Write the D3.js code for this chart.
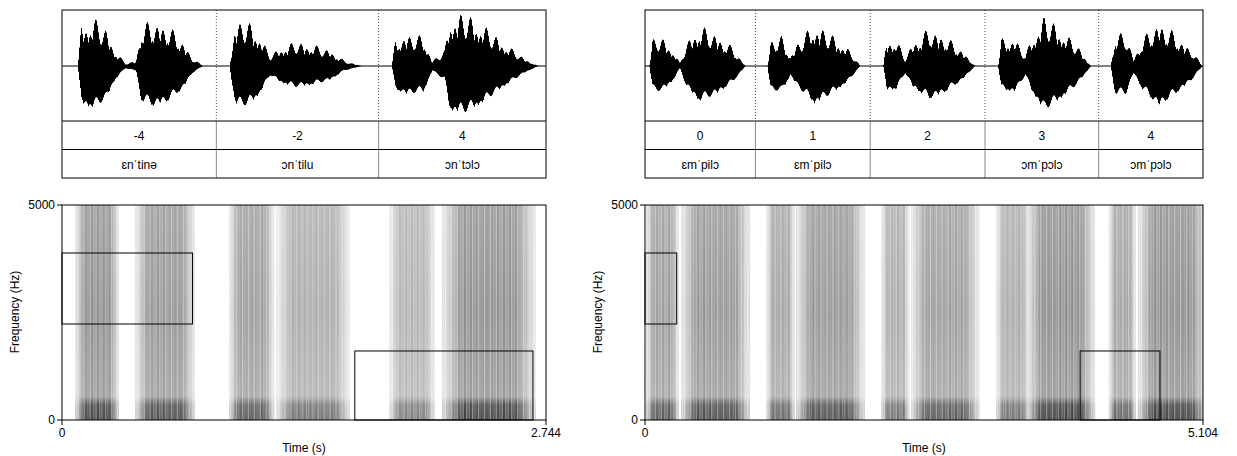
<!DOCTYPE html>
<html><head><meta charset="utf-8">
<script src="https://cdn.jsdelivr.net/npm/d3@7"></script>
<style>body{margin:0;background:#fff}text{font-family:Arial,"Liberation Sans",sans-serif;font-size:12px}</style>
</head><body><svg width="1237" height="456"></svg>
<script>
// left panel
let leftDur = 2.744
let leftBounds = [0.875, 1.795]
let leftTier1 = ['-4', '-2', '4']
let leftTier2 = ['ɛnˈtinə', 'ɔnˈtilu', 'ɔnˈtɔlɔ']
let leftEnv = [[0,0],[0.09,0],[0.11,0.8],[0.18,0.9],[0.25,0.7],[0.3,0.3],[0.36,0.05],[0.42,0.1],[0.45,0.75],[0.52,0.85],[0.6,0.75],[0.68,0.5],[0.74,0.15],[0.8,0],[0.95,0],[0.98,0.8],[1.05,0.85],[1.12,0.6],[1.18,0.2],[1.24,0.35],[1.32,0.45],[1.42,0.4],[1.52,0.3],[1.6,0.1],[1.7,0],[1.87,0],[1.89,0.5],[1.95,0.6],[2.05,0.55],[2.1,0.1],[2.17,0.3],[2.2,0.95],[2.28,1],[2.38,0.8],[2.5,0.45],[2.62,0.15],[2.7,0],[2.744,0]]
let leftSegs = [[0.1,0.3,0.8],[0.44,0.73,0.75],[0.97,1.18,0.7],[1.24,1.61,0.6],[1.88,2.09,0.55],[2.18,2.66,0.8]]
let leftBoxes = [[0,0.74,2233,3884],[1.66,2.67,0,1605]]

// right panel
let rightDur = 5.104
let rightBounds = [1.01, 2.06, 3.11, 4.15]
let rightTier1 = ['0', '1', '2', '3', '4']
let rightTier2 = ['ɛmˈpilɔ', 'ɛmˈpilɔ', '', 'ɔmˈpɔlɔ', 'ɔmˈpɔlɔ']
let rightEnv = [[0,0],[0.04,0],[0.07,0.5],[0.15,0.55],[0.26,0.3],[0.32,0.05],[0.38,0.45],[0.5,0.75],[0.65,0.6],[0.8,0.35],[0.92,0],[1.12,0],[1.15,0.5],[1.25,0.55],[1.33,0.2],[1.4,0.45],[1.55,0.8],[1.7,0.6],[1.85,0.35],[1.97,0],[2.18,0],[2.21,0.5],[2.3,0.5],[2.38,0.15],[2.45,0.45],[2.6,0.7],[2.75,0.55],[2.9,0.3],[3.02,0],[3.23,0],[3.26,0.5],[3.38,0.55],[3.48,0.2],[3.53,0.5],[3.65,0.95],[3.8,0.7],[3.95,0.4],[4.08,0],[4.26,0],[4.3,0.6],[4.4,0.6],[4.47,0.15],[4.55,0.5],[4.7,0.85],[4.85,0.6],[5.0,0.3],[5.1,0],[5.104,0]]
let rightSegs = [[0.05,0.27,0.7],[0.37,0.92,0.75],[1.15,1.33,0.65],[1.42,1.97,0.75],[2.2,2.38,0.6],[2.47,3.02,0.7],[3.25,3.48,0.6],[3.53,4.08,0.8],[4.28,4.45,0.65],[4.55,5.1,0.8]]
let rightBoxes = [[0,0.29,2233,3884],[3.98,4.71,0,1605]]

let freqTicks = [0, 5000]

let svg = d3.select('svg')
let defs = svg.append('defs')
let grad = defs.append('linearGradient').attr('id', 'sg').attr('x1', 0).attr('x2', 0).attr('y1', 1).attr('y2', 0)
grad.append('stop').attr('offset', '0').attr('stop-color', '#000')
grad.append('stop').attr('offset', '0.07').attr('stop-color', '#111')
grad.append('stop').attr('offset', '0.11').attr('stop-color', '#777')
grad.append('stop').attr('offset', '0.5').attr('stop-color', '#666')
grad.append('stop').attr('offset', '1').attr('stop-color', '#777')
let hg = defs.append('linearGradient').attr('id', 'hg')
hg.append('stop').attr('offset', '0').attr('stop-color', '#fff').attr('stop-opacity', 0.8)
hg.append('stop').attr('offset', '0.2').attr('stop-color', '#fff').attr('stop-opacity', 0)
hg.append('stop').attr('offset', '0.8').attr('stop-color', '#fff').attr('stop-opacity', 0)
hg.append('stop').attr('offset', '1').attr('stop-color', '#fff').attr('stop-opacity', 0.8)

let panelNo = 0
let drawPanel = (x0, x1, dur, bounds, tier1, tier2, env, segs, boxes) => {
  let x = d3.scaleLinear().domain([0, dur]).range([x0, x1])
  let edges = [0].concat(bounds, [dur])
  let g = svg.append('g')
  let clipId = 'clip' + (panelNo++)
  defs.append('clipPath').attr('id', clipId).append('rect')
    .attr('x', x0).attr('y', 205).attr('width', x1 - x0).attr('height', 215)

  // waveform
  let amp = d3.scaleLinear().domain([0, 1]).range([0, 55])
  let envFn = t => {
    let i = d3.bisector(d => d[0]).right(env, t)
    if (i <= 0) return env[0][1]
    if (i >= env.length) return env[env.length - 1][1]
    let a = env[i - 1], b = env[i]
    return a[1] + (b[1] - a[1]) * (t - a[0]) / (b[0] - a[0])
  }
  let ticks = d3.range(x0 + 0.5, x1, 1)
  g.append('path')
    .attr('d', ticks.map((px, i) => {
      let e = amp(envFn(x.invert(px)))
      let k = 0.5 + 0.5 * Math.abs(Math.sin(i * 2.9) * Math.cos(i * 0.37))
      return 'M' + px + ',' + (66 - e * k) + 'V' + (66 + e * (1.05 - k * 0.4))
    }).join(''))
    .attr('stroke', '#000').attr('stroke-width', 1)
  g.append('line').attr('x1', x0).attr('x2', x1).attr('y1', 66).attr('y2', 66).attr('stroke', '#000')
  bounds.forEach(b => {
    g.append('line').attr('x1', x(b)).attr('x2', x(b)).attr('y1', 10).attr('y2', 121)
      .attr('stroke', '#000').attr('stroke-width', 0.7).attr('stroke-dasharray', '1,2')
    g.append('line').attr('x1', x(b)).attr('x2', x(b)).attr('y1', 121).attr('y2', 178)
      .attr('stroke', '#888').attr('stroke-width', 1)
  })
  g.append('rect').attr('x', x0).attr('y', 10).attr('width', x1 - x0).attr('height', 168)
    .attr('fill', 'none').attr('stroke', '#000')
  g.append('line').attr('x1', x0).attr('x2', x1).attr('y1', 121).attr('y2', 121).attr('stroke', '#000')
  g.append('line').attr('x1', x0).attr('x2', x1).attr('y1', 149.5).attr('y2', 149.5).attr('stroke', '#000')
  tier1.forEach((t, i) => {
    g.append('text').attr('x', (x(edges[i]) + x(edges[i + 1])) / 2).attr('y', 140)
      .attr('text-anchor', 'middle').text(t)
  })
  tier2.forEach((t, i) => {
    g.append('text').attr('x', (x(edges[i]) + x(edges[i + 1])) / 2).attr('y', 169)
      .attr('text-anchor', 'middle').text(t)
  })

  // spectrogram
  let y = d3.scaleLinear().domain([0, 5000]).range([420, 205])
  let sg = g.append('g').attr('clip-path', 'url(#' + clipId + ')')
  segs.forEach(s => {
    let sx = x(s[0]) - 4, sw = x(s[1]) - x(s[0]) + 8
    sg.append('rect').attr('x', sx).attr('y', 205).attr('width', sw).attr('height', 215)
      .attr('fill', 'url(#sg)').attr('opacity', s[2])
    d3.range(sx, sx + sw, 1.5).forEach((px, i) => {
      sg.append('line').attr('x1', px).attr('x2', px).attr('y1', 205).attr('y2', 420)
        .attr('stroke', '#fff').attr('stroke-width', 0.8).attr('opacity', 0.15 + 0.45 * Math.abs(Math.sin(i * 2.3)))
    })
    sg.append('rect').attr('x', sx).attr('y', 205).attr('width', sw).attr('height', 215).attr('fill', 'url(#hg)')
  })
  boxes.forEach(b => {
    g.append('rect').attr('x', x(b[0])).attr('y', y(b[3])).attr('width', x(b[1]) - x(b[0]))
      .attr('height', y(b[2]) - y(b[3])).attr('fill', 'none').attr('stroke', '#000')
  })
  g.append('rect').attr('x', x0).attr('y', 205).attr('width', x1 - x0).attr('height', 215)
    .attr('fill', 'none').attr('stroke', '#000')
  freqTicks.forEach(f => {
    g.append('line').attr('x1', x0 - 5).attr('x2', x0).attr('y1', y(f)).attr('y2', y(f)).attr('stroke', '#000')
    g.append('text').attr('x', x0 - 7).attr('y', y(f) + 4).attr('text-anchor', 'end').text(f)
  })
  ;[0, dur].forEach(t => {
    g.append('line').attr('x1', x(t)).attr('x2', x(t)).attr('y1', 420).attr('y2', 425).attr('stroke', '#000')
    g.append('text').attr('x', x(t)).attr('y', 437).attr('text-anchor', 'middle').text(t)
  })
  g.append('text').attr('x', (x0 + x1) / 2).attr('y', 452).attr('text-anchor', 'middle').text('Time (s)')
  g.append('text').attr('transform', 'translate(' + (x0 - 43) + ',312) rotate(-90)')
    .attr('text-anchor', 'middle').text('Frequency (Hz)')
}

drawPanel(62, 546, leftDur, leftBounds, leftTier1, leftTier2, leftEnv, leftSegs, leftBoxes)
drawPanel(645, 1203, rightDur, rightBounds, rightTier1, rightTier2, rightEnv, rightSegs, rightBoxes)
</script></body></html>
